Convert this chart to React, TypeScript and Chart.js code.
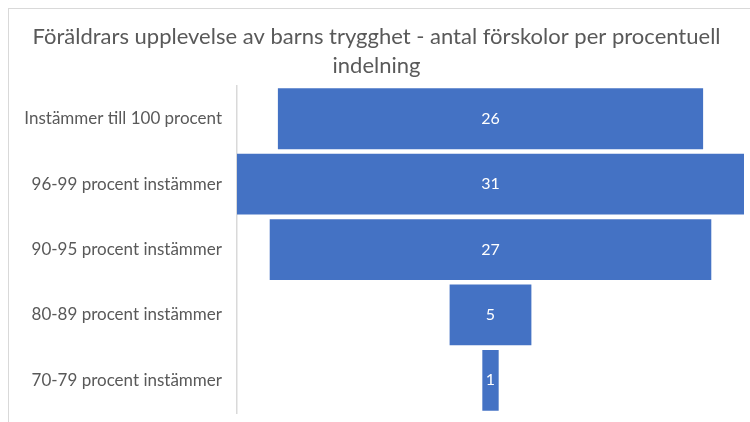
import React, { useEffect, useRef } from "react";
import { Chart, registerables } from "chart.js";

Chart.register(...registerables);

const categories = [
  "Instämmer till 100 procent",
  "96-99 procent instämmer",
  "90-95 procent instämmer",
  "80-89 procent instämmer",
  "70-79 procent instämmer",
];
const values = [26, 31, 27, 5, 1];
const titleLines = [
  "Föräldrars upplevelse av barns trygghet - antal förskolor per procentuell",
  "indelning",
];

const FONT = "Lato";

const valueLabels = {
  id: "valueLabels",
  afterDatasetsDraw(chart: any) {
    const ctx = chart.ctx;
    const meta = chart.getDatasetMeta(0);
    ctx.save();
    ctx.fillStyle = "#ffffff";
    ctx.font = `16px ${FONT}`;
    ctx.textAlign = "center";
    ctx.textBaseline = "middle";
    meta.data.forEach((bar: any, i: number) => {
      const p = bar.getProps(["x", "y", "base"], true);
      ctx.fillText(String(values[i]), (p.x + p.base) / 2, p.y);
    });
    ctx.restore();
  },
};

export default function App() {
  const ref = useRef<HTMLCanvasElement>(null);
  useEffect(() => {
    const chart = new Chart(ref.current!, {
      type: "bar",
      data: {
        labels: categories,
        datasets: [
          {
            data: values.map((v) => [-v / 2, v / 2]) as any,
            backgroundColor: "#4472C4",
            barPercentage: 0.93,
            categoryPercentage: 1,
          },
        ],
      },
      options: {
        indexAxis: "y",
        responsive: true,
        maintainAspectRatio: false,
        animation: false,
        devicePixelRatio: 1,
        layout: { padding: { left: 0, right: 6, top: 0, bottom: 9 } },
        plugins: {
          legend: { display: false },
          tooltip: { enabled: false },
          title: {
            display: true,
            text: titleLines,
            color: "#595959",
            font: { family: FONT, size: 22, weight: "normal", lineHeight: 1.32 },
            padding: { top: 13, bottom: 6 },
          },
        },
        scales: {
          x: { display: false, min: -15.5, max: 15.5 },
          y: {
            grid: { display: false, drawTicks: false },
            border: { display: true, color: "#d9d9d9", width: 1.5 },
            ticks: {
              color: "#595959",
              font: { family: FONT, size: 17 },
              padding: 15,
            },
            afterFit(scale: any) {
              scale.width = 228;
              scale.paddingTop = 0;
              scale.paddingBottom = 0;
            },
          },
        },
      },
      plugins: [valueLabels],
    });
    return () => chart.destroy();
  }, []);
  return (
    <div
      style={{
        position: "fixed",
        left: 8,
        top: 8,
        width: 741,
        height: 413,
        borderTop: "1px solid #d9d9d9",
        borderLeft: "1px solid #d9d9d9",
        background: "#ffffff",
      }}
    >
      <div style={{ position: "relative", width: 741, height: 413 }}>
        <canvas ref={ref} />
      </div>
    </div>
  );
}
